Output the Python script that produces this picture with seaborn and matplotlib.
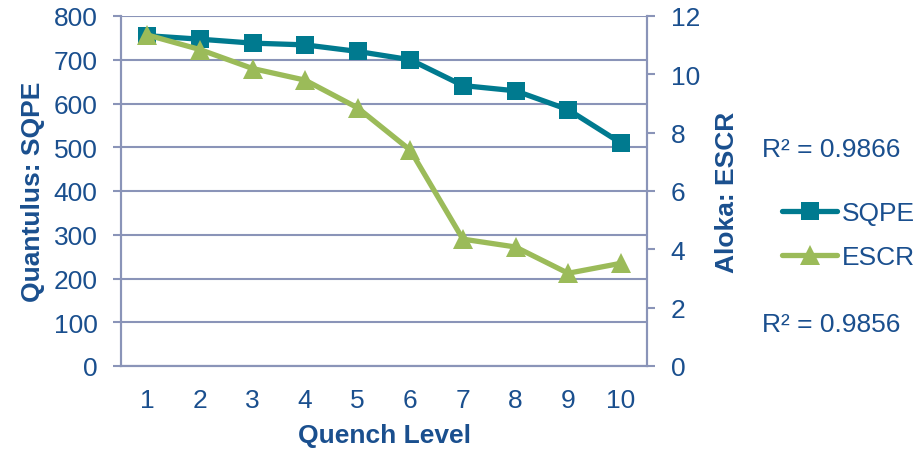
import matplotlib
matplotlib.use("Agg")
import matplotlib.pyplot as plt
import seaborn as sns
import pandas as pd
from matplotlib.lines import Line2D

quench_levels = [1, 2, 3, 4, 5, 6, 7, 8, 9, 10]
sqpe_values = [755, 747, 738, 734, 719, 700, 641, 629, 586, 510]
escr_values = [11.35, 10.85, 10.2, 9.8, 8.85, 7.4, 4.35, 4.08, 3.18, 3.52]
r2_labels = ["R² = 0.9866", "R² = 0.9856"]

TEXT = "#1A4F8E"
GRID = "#8A94B8"
TEAL = "#007A8F"
GREEN = "#9BBB59"
FS = 19

sns.set_theme(style="white")
plt.rcParams["font.family"] = ["Liberation Sans", "DejaVu Sans"]

df = pd.DataFrame({"level": quench_levels, "SQPE": sqpe_values, "ESCR": escr_values})

fig = plt.figure(figsize=(9.19, 4.52), dpi=100)
ax = fig.add_axes([121 / 919, 1 - 367 / 452, (647 - 121) / 919, (367 - 17) / 452])
ax2 = ax.twinx()

sns.lineplot(data=df, x="level", y="SQPE", ax=ax, color=TEAL, linewidth=3.8,
             marker="s", markersize=13.5, markeredgewidth=0, zorder=3)
sns.lineplot(data=df, x="level", y="ESCR", ax=ax2, color=GREEN, linewidth=3.8,
             marker="^", markersize=15, markeredgewidth=0, zorder=3)

ax.set_xlim(0.5, 10.5)
ax.set_ylim(0, 800)
ax.set_yticks(range(0, 801, 100))
ax.set_xticks(quench_levels)
ax2.set_ylim(0, 12)
ax2.set_yticks(range(0, 13, 2))

ax.yaxis.grid(True, color=GRID, linewidth=1.5)
ax.set_axisbelow(True)

for a in (ax, ax2):
    a.spines["top"].set_visible(False)
    for side in ("left", "right", "bottom"):
        a.spines[side].set_color(GRID)
        a.spines[side].set_linewidth(1.5)
    a.tick_params(colors=TEXT, labelsize=FS)

ax.tick_params(axis="y", left=True, length=6, width=1.5, color=GRID, pad=11)
ax.tick_params(axis="x", bottom=False, length=0, pad=16)
ax2.tick_params(axis="y", right=True, length=6, width=1.5, color=GRID, pad=11)

ax.set_xlabel("Quench Level", color=TEXT, fontsize=FS, fontweight="bold", labelpad=8)
ax.set_ylabel("Quantulus: SQPE", color=TEXT, fontsize=FS, fontweight="bold", labelpad=6)
ax2.set_ylabel("Aloka: ESCR", color=TEXT, fontsize=FS, fontweight="bold", labelpad=11)

handles = [
    Line2D([], [], color=TEAL, linewidth=3.8, marker="s", markersize=13.5,
           markeredgewidth=0, solid_capstyle="round"),
    Line2D([], [], color=GREEN, linewidth=3.8, marker="^", markersize=15,
           markeredgewidth=0, solid_capstyle="round"),
]
leg = fig.legend(handles, ["SQPE", "ESCR"], loc="center left",
                 bbox_to_anchor=(782 / 919, 1 - 236 / 452), frameon=False,
                 fontsize=FS, handlelength=2.1, handletextpad=0.15, labelspacing=0.75,
                 borderpad=0, borderaxespad=0)
for t in leg.get_texts():
    t.set_color(TEXT)

fig.text(762 / 919, 1 - 150 / 452, r2_labels[0], color=TEXT, fontsize=FS, va="center", ha="left")
fig.text(762 / 919, 1 - 325 / 452, r2_labels[1], color=TEXT, fontsize=FS, va="center", ha="left")

fig.savefig("out.png", dpi=100, facecolor="white")
